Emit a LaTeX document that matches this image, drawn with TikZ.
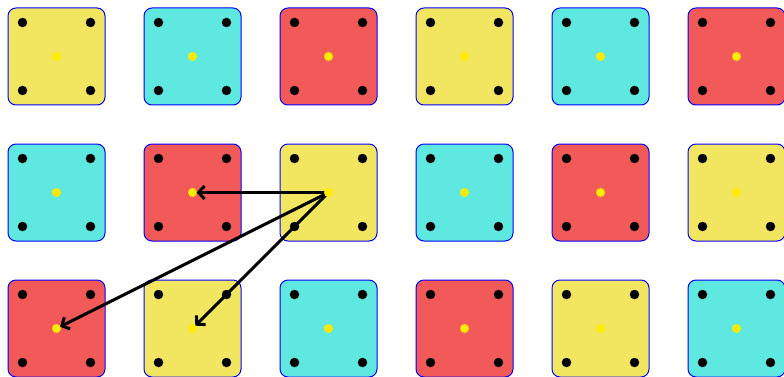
\documentclass[tikz,border=0pt]{standalone}
\usetikzlibrary{arrows.meta,calc}
\definecolor{tileA}{RGB}{242,230,97}
\definecolor{tileB}{RGB}{94,232,224}
\definecolor{tileC}{RGB}{242,90,90}
\definecolor{dotY}{RGB}{255,235,0}
\definecolor{edgeblue}{RGB}{0,0,255}
\tikzset{
  tile/.style={draw=edgeblue, line width=1pt, rounded corners=8pt, minimum width=97pt, minimum height=97pt, inner sep=0pt},
  blackdot/.style={circle, fill=black, minimum size=9.5pt, inner sep=0pt},
  centerdot/.style={circle, fill=dotY, minimum size=9pt, inner sep=0pt},
  jump/.style={line width=3pt, -{Straight Barb[length=6pt,width=13pt]}, shorten >=4pt}
}
\begin{document}
\begin{tikzpicture}[x=1pt,y=-1pt]
\useasboundingbox (0,0) rectangle (784,377);
\foreach \r in {0,1,2} {
  \foreach \c in {0,...,5} {
    \pgfmathtruncatemacro\k{mod(\r+\c,3)}
    \ifcase\k \def\tc{tileA}\or \def\tc{tileB}\or \def\tc{tileC}\fi
    \node[tile, fill=\tc] (sq-\r-\c) at (56.5+136*\c, 56.5+136*\r) {};
    \node[blackdot] (tl-\r-\c) at ($(sq-\r-\c.center)+(-34,-34)$) {};
    \node[blackdot] (tr-\r-\c) at ($(sq-\r-\c.center)+(34,-34)$) {};
    \node[blackdot] (bl-\r-\c) at ($(sq-\r-\c.center)+(-34,34)$) {};
    \node[blackdot] (br-\r-\c) at ($(sq-\r-\c.center)+(34,34)$) {};
    \node[centerdot] (ctr-\r-\c) at (sq-\r-\c.center) {};
  }
}
\draw[jump] (ctr-1-2.center) -- (ctr-1-1.center);
\draw[jump] (ctr-1-2.center) -- (ctr-2-0.center);
\draw[jump] (ctr-1-2.center) -- (ctr-2-1.center);
\node[centerdot] at (ctr-1-2.center) {};
\end{tikzpicture}
\end{document}
